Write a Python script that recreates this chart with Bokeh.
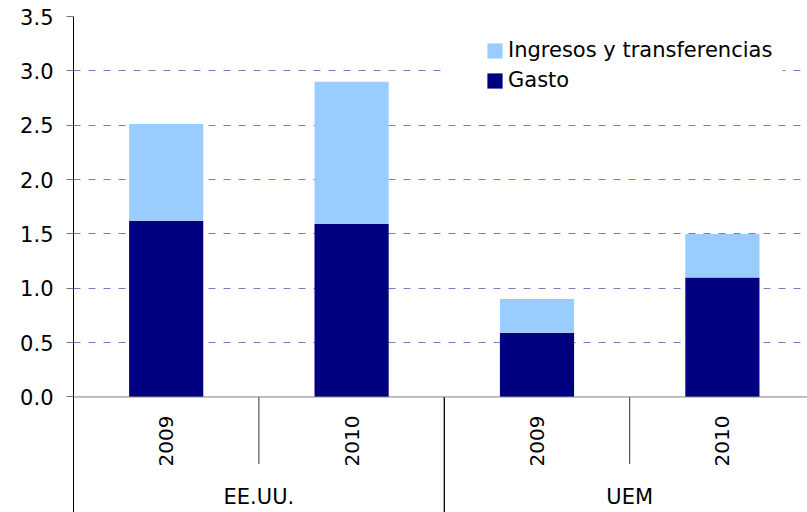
import math
from bokeh.plotting import figure
from bokeh.models import (Range1d, FixedTicker, Span, Legend, LegendItem,
                          BoxAnnotation, ColumnDataSource, NumeralTickFormatter)
from bokeh.core.properties import value
from bokeh.embed import file_html
from bokeh.resources import INLINE

# ---- data ----
groups = ["EE.UU.", "EE.UU.", "UEM", "UEM"]
years = ["2009", "2010", "2009", "2010"]
gasto = [1.62, 1.59, 0.59, 1.10]
ingresos = [0.89, 1.31, 0.31, 0.40]
y_ticks = [0.0, 0.5, 1.0, 1.5, 2.0, 2.5, 3.0, 3.5]
series_labels = ["Gasto", "Ingresos y transferencias"]

C_GASTO = "#000080"
C_ING = "#99CCFF"
FONT = "DejaVu Sans"

xs = [i + 0.5 for i in range(len(years))]
src = ColumnDataSource(dict(x=xs, gasto=gasto, ingresos=ingresos, years=years))

px_per_cat = 185.4
frame_w = 734
ymin = -1.063

p = figure(width=807, height=512, x_range=Range1d(0, frame_w / px_per_cat),
           y_range=Range1d(ymin, 3.5), output_backend="svg",
           toolbar_location=None, x_axis_location=None,
           min_border_left=73, min_border_right=0, min_border_top=16,
           min_border_bottom=0)
p.outline_line_color = None
p.background_fill_color = "white"

# y axis
ya = p.yaxis[0]
ya.ticker = FixedTicker(ticks=y_ticks)
ya.formatter = NumeralTickFormatter(format="0.0")
ya.major_tick_out = 7
ya.major_tick_in = 0
ya.minor_tick_line_color = None
ya.major_tick_line_color = "#777777"
ya.axis_line_color = "black"
ya.major_label_text_font = FONT
ya.major_label_text_font_size = "21px"
ya.major_label_text_color = "black"
ya.major_label_standoff = 13

# grids
for g in p.xgrid:
    g.visible = False
yg = p.ygrid[0]
yg.ticker = FixedTicker(ticks=y_ticks[1:])
yg.grid_line_dash = "7 8"
yg.grid_line_color = "#7C7CB8"
yg.grid_line_width = 1

p.add_layout(Span(location=0, dimension="width", line_color="#808080", line_width=1))

# bars
rs = p.vbar_stack(["gasto", "ingresos"], x="x", width=0.4, color=[C_GASTO, C_ING],
                  line_color=None, source=src)

# legend background (interrupts gridline)
p.add_layout(BoxAnnotation(left=1.99, right=3.824, bottom=2.72, top=3.37,
                           fill_color="white", fill_alpha=1.0, line_color=None))

legend = Legend(items=[LegendItem(label=series_labels[1], renderers=[rs[1]]),
                       LegendItem(label=series_labels[0], renderers=[rs[0]])],
                location=(412, 420), glyph_width=19, glyph_height=19,
                label_standoff=4, padding=0, spacing=6, margin=0,
                border_line_color=None, background_fill_alpha=0.0,
                label_text_font=FONT, label_text_font_size="21px",
                label_text_color="black")
p.add_layout(legend)

# category axis drawn in the plot area below zero
p.text(x="x", y=-0.405, text="years", source=src, angle=math.pi / 2,
       text_align="center", text_baseline="middle",
       text_font=value(FONT), text_font_size="20px", text_color="black")

group_names = []
group_x = []
for gname in dict.fromkeys(groups):
    idx = [i for i, g in enumerate(groups) if g == gname]
    group_names.append(gname)
    group_x.append(sum(xs[i] for i in idx) / len(idx))
p.text(x=group_x, y=[-0.925] * len(group_x), text=group_names,
       text_align="center", text_baseline="middle",
       text_font=value(FONT), text_font_size="21px", text_color="black")

inner = [i for i in range(1, len(groups)) if groups[i] == groups[i - 1]]
outer = [i for i in range(1, len(groups)) if groups[i] != groups[i - 1]]
p.segment(x0=inner, y0=[0] * len(inner), x1=inner, y1=[-0.616] * len(inner),
          line_color="#333333", line_width=1)
p.segment(x0=outer, y0=[0] * len(outer), x1=outer, y1=[ymin] * len(outer),
          line_color="black", line_width=1.3)

open("out.html", "w").write(file_html(p, INLINE))
